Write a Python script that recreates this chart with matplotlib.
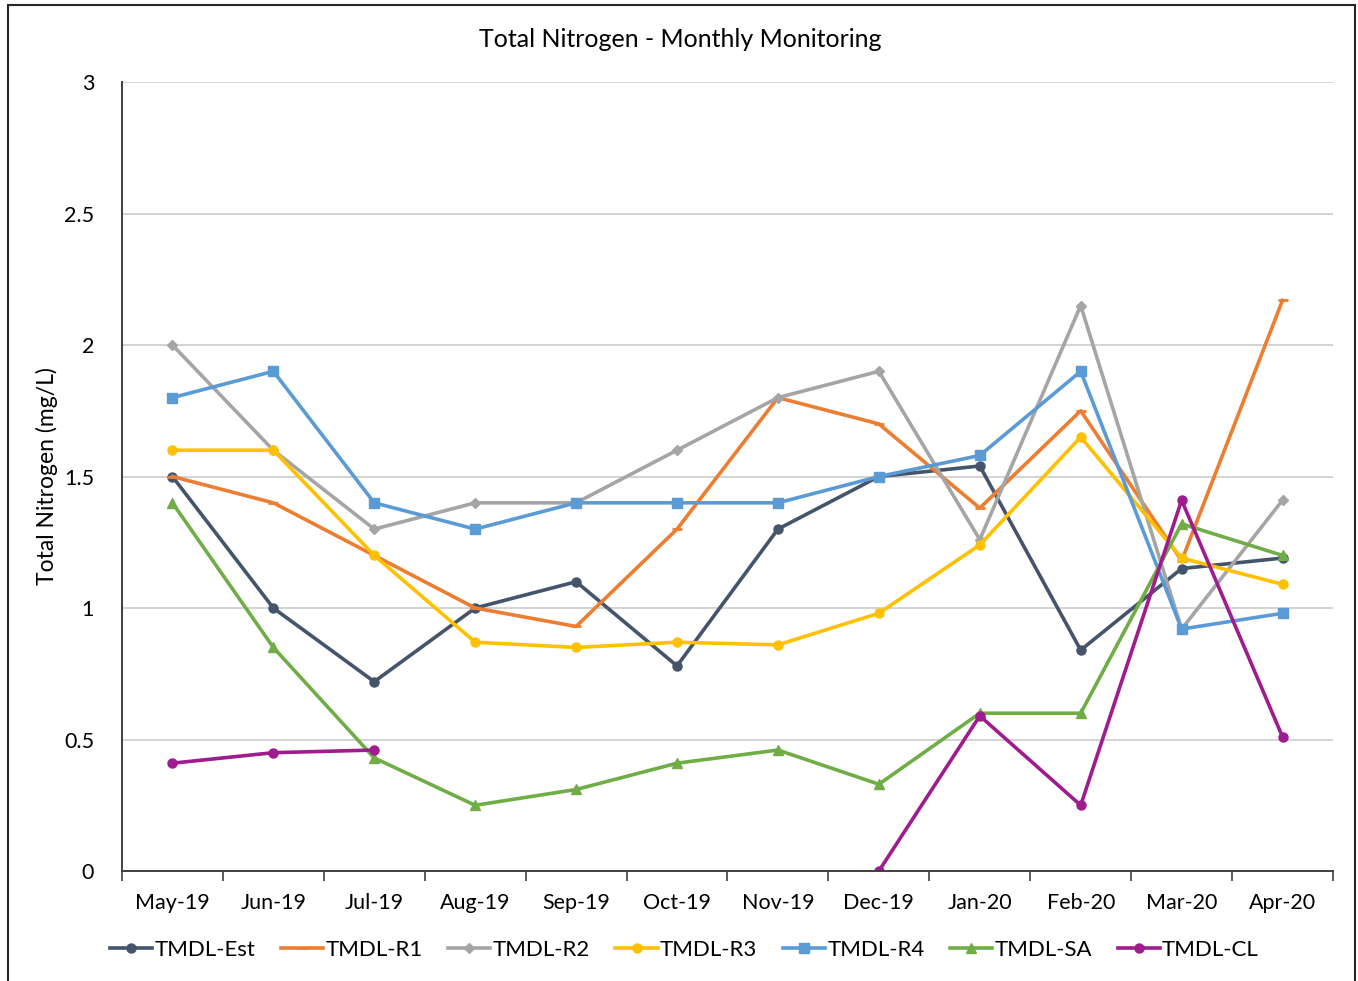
import numpy as np
import matplotlib
matplotlib.use("Agg")
import matplotlib.pyplot as plt
from matplotlib.patches import Rectangle

months = ["May-19", "Jun-19", "Jul-19", "Aug-19", "Sep-19", "Oct-19",
          "Nov-19", "Dec-19", "Jan-20", "Feb-20", "Mar-20", "Apr-20"]
nan = np.nan
tmdl_est = [1.50, 1.00, 0.72, 1.00, 1.10, 0.78, 1.30, 1.50, 1.54, 0.84, 1.15, 1.19]
tmdl_r1 = [1.50, 1.40, 1.20, 1.00, 0.93, 1.30, 1.80, 1.70, 1.38, 1.75, 1.18, 2.17]
tmdl_r2 = [2.00, 1.60, 1.30, 1.40, 1.40, 1.60, 1.80, 1.90, 1.26, 2.15, 0.92, 1.41]
tmdl_r3 = [1.60, 1.60, 1.20, 0.87, 0.85, 0.87, 0.86, 0.98, 1.24, 1.65, 1.19, 1.09]
tmdl_r4 = [1.80, 1.90, 1.40, 1.30, 1.40, 1.40, 1.40, 1.50, 1.58, 1.90, 0.92, 0.98]
tmdl_sa = [1.40, 0.85, 0.43, 0.25, 0.31, 0.41, 0.46, 0.33, 0.60, 0.60, 1.32, 1.20]
tmdl_cl = [0.41, 0.45, 0.46, nan, nan, nan, nan, 0.00, 0.59, 0.25, 1.41, 0.51]

series_names = ["TMDL-Est", "TMDL-R1", "TMDL-R2", "TMDL-R3", "TMDL-R4", "TMDL-SA", "TMDL-CL"]
series_values = [tmdl_est, tmdl_r1, tmdl_r2, tmdl_r3, tmdl_r4, tmdl_sa, tmdl_cl]
colors = ["#44546A", "#ED7D31", "#A5A5A5", "#FFC000", "#5B9BD5", "#70AD47", "#9E1C8E"]
markers = ["o", "_", "D", "o", "s", "^", "o"]
msizes = [6.5, 7, 5, 6.5, 6.5, 6.5, 6.5]

plt.rcParams['font.family'] = ['Lato', 'DejaVu Sans']

fig = plt.figure(figsize=(13.58, 9.81), dpi=100)
ax = fig.add_axes([0.0898, 0.1121, 0.9816 - 0.0898, 0.9164 - 0.1121])

x = np.arange(len(months))
for name, vals, c, m, ms in zip(series_names, series_values, colors, markers, msizes):
    ax.plot(x, vals, color=c, lw=2.6, marker=m, markersize=ms,
            markeredgewidth=2.0 if m == "_" else 1.0, markeredgecolor=c,
            markerfacecolor=c, label=name, solid_joinstyle='round')

ax.set_xlim(-0.5, len(months) - 0.5)
ax.set_ylim(0, 3)
ax.set_yticks([0, 0.5, 1, 1.5, 2, 2.5, 3])
ax.set_yticklabels(["0", "0.5", "1", "1.5", "2", "2.5", "3"])
ax.set_xticks(x)
ax.set_xticklabels(months)
ax.set_xticks(np.arange(-0.5, len(months), 1.0), minor=True)
ax.tick_params(axis='x', which='major', length=0, pad=15.5, labelsize=15.5, colors='#000000')
ax.tick_params(axis='x', which='minor', length=7, width=1.2, color='#404040', direction='out')
ax.tick_params(axis='y', which='major', length=0, pad=20, labelsize=15.5)
ax.grid(axis='y', color='#D0D0D0', lw=1.3)
ax.set_axisbelow(True)
for s in ['top', 'right']:
    ax.spines[s].set_visible(False)
ax.spines['left'].set_color('#404040')
ax.spines['left'].set_linewidth(1.4)
ax.spines['bottom'].set_color('#404040')
ax.spines['bottom'].set_linewidth(1.4)

ax.set_ylabel("Total Nitrogen (mg/L)", fontsize=16.5, labelpad=4)
fig.text(0.501, 0.960, "Total Nitrogen - Monthly Monitoring", ha='center', va='center', fontsize=18)

leg = fig.legend(loc='center', bbox_to_anchor=(0.504, 0.032), ncol=7, frameon=False,
                 fontsize=16, handlelength=1.9, handletextpad=0.1, columnspacing=1.15)

fig.patches.append(Rectangle((8 / 1358, -0.05), (1355 - 8) / 1358, 1.05 - 5 / 981,
                             transform=fig.transFigure, fill=False,
                             edgecolor='#262626', lw=1.5))

fig.savefig("out.png", dpi=100)
